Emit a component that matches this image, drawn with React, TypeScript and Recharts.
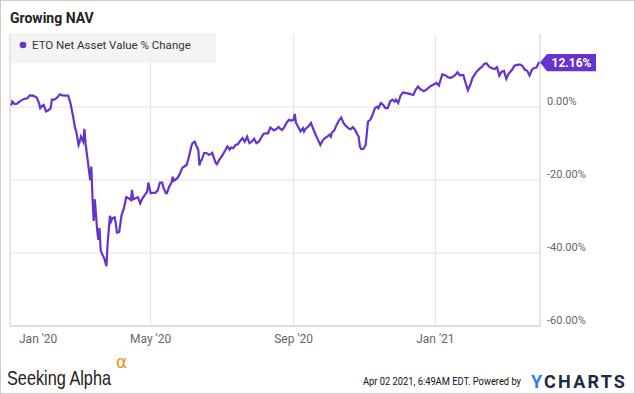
import { LineChart, Line, XAxis, YAxis, CartesianGrid, ReferenceLine, ReferenceDot } from "recharts";

// days since Jan 1 2020
const days = [
  1, 2, 4, 6, 9, 12, 15, 17, 20, 23,
  25, 26, 28, 29, 31, 33, 35, 36, 38, 40,
  43, 45, 48, 50, 52, 54, 56, 57, 59, 60,
  61, 63, 64, 65, 67, 69, 70, 71, 72, 73,
  75, 76, 77, 78, 79, 81, 83, 84, 86, 87,
  88, 90, 91, 92, 94, 95, 96, 98, 100, 102,
  104, 105, 106, 108, 110, 112, 114, 116, 118, 119,
  121, 123, 125, 127, 129, 131, 132, 134, 135, 137,
  139, 140, 141, 144, 146, 148, 149, 152, 154, 156,
  157, 159, 160, 162, 163, 164, 165, 167, 169, 171,
  173, 174, 177, 178, 180, 183, 185, 187, 189, 190,
  192, 194, 196, 198, 200, 202, 204, 206, 208, 210,
  212, 214, 216, 218, 220, 222, 224, 226, 227, 229,
  231, 234, 236, 238, 240, 242, 244, 245, 246, 248,
  250, 252, 253, 254, 257, 259, 261, 263, 265, 267,
  269, 271, 273, 275, 276, 277, 279, 281, 283, 285,
  287, 289, 291, 293, 295, 297, 299, 300, 301, 302,
  304, 306, 307, 308, 310, 312, 314, 316, 317, 319,
  321, 323, 325, 327, 329, 331, 332, 334, 336, 338,
  341, 344, 347, 349, 351, 353, 356, 358, 361, 364,
  367, 369, 370, 372, 375, 377, 379, 381, 383, 385,
  387, 390, 392, 394, 396, 398, 401, 404, 406, 408,
  410, 412, 414, 417, 419, 421, 423, 425, 426, 427,
  429, 432, 434, 437, 439, 441, 443, 445, 447, 449,
  451, 453, 455, 456,
];

// ETO net asset value, % change
const navChange = [
  0.4, 1.5, 0.8, 0.9, 1.7, 2.2, 2.4, 3.2, 3.1, 2.6,
  1.1, -0.3, 0.4, 0.6, -1.2, -0.9, -0.3, 2.0, 2.0, 2.4,
  3.5, 3.2, 3.1, 3.1, 1.1, -2.1, -5.8, -6.7, -10.4, -9.5,
  -8.1, -9.5, -6.0, -9.9, -15.0, -20.0, -16.3, -25.0, -31.2, -25.3,
  -33.7, -36.4, -33.2, -39.2, -40.1, -41.4, -43.6, -37.3, -29.8, -31.3,
  -30.5, -30.2, -31.8, -34.4, -34.2, -31.8, -29.6, -27.7, -24.7, -25.0,
  -25.5, -22.7, -25.3, -25.0, -24.7, -26.4, -25.0, -24.1, -23.2, -20.7,
  -23.6, -23.5, -23.5, -22.9, -20.7, -20.7, -22.0, -23.6, -23.6, -21.8,
  -20.7, -19.1, -20.2, -19.5, -18.4, -16.8, -16.5, -15.9, -13.6, -10.8,
  -9.9, -9.5, -10.4, -11.7, -16.0, -14.8, -14.5, -12.6, -12.6, -13.1,
  -12.9, -12.6, -15.4, -15.7, -14.5, -13.1, -12.0, -10.8, -11.7, -11.1,
  -11.3, -10.4, -10.2, -9.3, -8.5, -9.5, -8.1, -9.9, -9.5, -8.7,
  -9.9, -9.5, -8.5, -7.4, -7.2, -7.2, -5.6, -6.1, -6.4, -6.1,
  -5.5, -6.3, -5.5, -4.3, -3.5, -3.7, -3.5, -1.9, -4.3, -5.5,
  -6.7, -5.8, -6.7, -6.1, -5.2, -4.4, -6.1, -7.6, -9.0, -10.4,
  -9.2, -8.5, -8.1, -7.6, -8.1, -7.0, -6.4, -4.9, -3.7, -2.9,
  -4.4, -5.2, -5.8, -6.1, -5.5, -6.3, -7.6, -8.1, -10.8, -11.5,
  -11.5, -10.4, -7.2, -4.0, -3.5, -2.1, -0.3, 0.1, -0.3, 1.1,
  0.6, -0.3, -0.3, 1.5, 2.0, 1.5, 2.0, 1.1, 3.1, 4.0,
  3.8, 3.6, 3.3, 4.7, 5.6, 4.9, 4.3, 4.7, 5.5, 6.1,
  6.6, 5.9, 7.0, 9.0, 8.6, 8.1, 8.0, 8.3, 8.7, 9.5,
  8.7, 8.8, 6.6, 4.6, 6.1, 8.0, 9.5, 10.5, 11.0, 11.8,
  12.0, 11.1, 10.7, 10.4, 10.9, 8.6, 9.7, 9.9, 8.8, 7.7,
  9.1, 10.2, 11.3, 11.6, 11.6, 11.2, 10.2, 9.9, 8.6, 10.2,
  10.7, 10.8, 12.1, 12.16,
];

const xTicks = [0, 121, 244, 366];
const xTickLabels = ["Jan '20", "May '20", "Sep '20", "Jan '21"];
const yTicks = [-60, -40, -20, 0];

const PURPLE = "#6633cc";

const data = days.map((d, i) => ({ day: d, nav: navChange[i] }));
const last = data[data.length - 1];

function XTick({ x, y, payload }: any) {
  const first = payload.value === 0;
  return (
    <text
      x={first ? x + 9 : x}
      y={y + 9}
      textAnchor={first ? "start" : "middle"}
      fill="#666"
      fontSize={12}
      fontFamily="Roboto"
    >
      {xTickLabels[xTicks.indexOf(payload.value)]}
    </text>
  );
}

function YTick({ x, y, payload }: any) {
  return (
    <text x={x - 1} y={y - 2} textAnchor="start" fill="#666" fontSize={11} fontFamily="Roboto">
      {payload.value.toFixed(2)}%
    </text>
  );
}

function LastValueTag({ cx, cy }: any) {
  return (
    <g>
      <path
        d={`M${cx},${cy} L${cx + 7},${cy - 8.7} L${cx + 56},${cy - 8.7} L${cx + 56},${cy + 8.7} L${cx + 7},${cy + 8.7} Z`}
        fill={PURPLE}
      />
      <text x={cx + 31.5} y={cy + 4.2} textAnchor="middle" fill="#fff" fontSize={12} fontWeight="bold" fontFamily="Roboto">
        {last.nav.toFixed(2)}%
      </text>
    </g>
  );
}

export default function App() {
  return (
    <div style={{ position: "absolute", left: 0, top: 0, width: 635, height: 394, background: "#fff", fontFamily: "Roboto" }}>
      <div style={{ position: "absolute", left: 0, top: 0 }}>
        <LineChart width={635} height={356} data={data} margin={{ top: 34, right: 0, left: 10, bottom: 0 }}>
          <CartesianGrid stroke="#e3e3e3" horizontalValues={yTicks} verticalValues={xTicks.slice(1)} />
          <XAxis
            dataKey="day"
            type="number"
            domain={[0, 456]}
            ticks={xTicks}
            interval={0}
            height={30}
            tick={<XTick />}
            tickLine={false}
            axisLine={{ stroke: "#ccc" }}
          />
          <YAxis
            orientation="right"
            width={95}
            domain={[-60, 20]}
            ticks={yTicks}
            interval={0}
            tick={<YTick />}
            tickLine={false}
            axisLine={{ stroke: "#ccc" }}
          />
          <ReferenceLine x={0} stroke="#ccc" />
          <Line
            type="linear"
            dataKey="nav"
            stroke={PURPLE}
            strokeWidth={2.2}
            dot={false}
            isAnimationActive={false}
          />
          <ReferenceDot x={last.day} y={last.nav} shape={<LastValueTag />} />
        </LineChart>
      </div>
      <svg width={635} height={394} style={{ position: "absolute", left: 0, top: 0, pointerEvents: "none" }}>
        <rect x={0.5} y={0.5} width={634} height={393} fill="none" stroke="#ccc" />
        <text x={10} y={23} fontSize={14} fontWeight="bold" fill="#222" fontFamily="Roboto">
          Growing NAV
        </text>
        <rect x={11} y={33} width={205} height={30} fill="#f0f0f0" fillOpacity={0.75} />
        <circle cx={23} cy={45} r={3.3} fill={PURPLE} />
        <text x={32} y={49.2} fontSize={11.5} fill="#333" fontFamily="Roboto">
          ETO Net Asset Value % Change
        </text>
        <text x={7} y={385} fontSize={21} fill="#222" fontFamily="Liberation Sans" textLength={104} lengthAdjust="spacingAndGlyphs">
          Seeking Alpha
        </text>
        <text x={116} y={368} fontSize={17} fill="#f78c1e" fontFamily="DejaVu Sans">
          α
        </text>
        <text x={363} y={385} fontSize={11} fill="#111" fontFamily="Roboto" textLength={158} lengthAdjust="spacingAndGlyphs">
          Apr 02 2021, 6:49AM EDT.  Powered by
        </text>
        <text x={531} y={388} fontSize={18} fontWeight="bold" fill="#1d2b45" fontFamily="Roboto" letterSpacing={2.2}>
          <tspan fill="#2b7de9">Y</tspan>CHARTS
        </text>
      </svg>
    </div>
  );
}
